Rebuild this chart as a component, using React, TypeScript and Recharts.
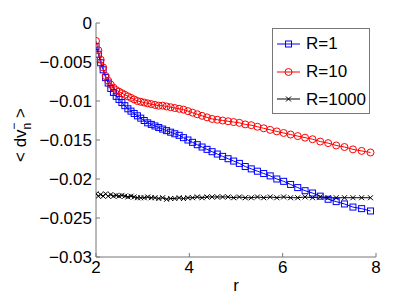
import React from 'react';
import { LineChart, Line, XAxis, YAxis, Legend } from 'recharts';

const rValues = [
  2.000, 2.050, 2.100, 2.153, 2.206, 2.261, 2.317, 2.374, 2.433, 2.493,
  2.555, 2.618, 2.683, 2.750, 2.818, 2.888, 2.959, 3.033, 3.108, 3.185,
  3.264, 3.345, 3.428, 3.513, 3.600, 3.689, 3.781, 3.874, 3.970, 4.069,
  4.170, 4.273, 4.379, 4.488, 4.599, 4.713, 4.830, 4.950, 5.072, 5.198,
  5.327, 5.459, 5.594, 5.733, 5.875, 6.021, 6.170, 6.323, 6.480, 6.640,
  6.805, 6.974, 7.147, 7.324, 7.506, 7.692, 7.882,
];

const r1Values = [
  -0.0030, -0.0040, -0.0051, -0.0060, -0.0070, -0.0077, -0.0084, -0.0089, -0.0094, -0.0098,
  -0.0102, -0.0106, -0.0110, -0.0113, -0.0116, -0.0119, -0.0122, -0.0125, -0.0128, -0.0130,
  -0.0132, -0.0134, -0.0136, -0.0138, -0.0140, -0.0142, -0.0144, -0.0147, -0.0150, -0.0153,
  -0.0156, -0.0159, -0.0162, -0.0165, -0.0168, -0.0171, -0.0174, -0.0177, -0.0180, -0.0184,
  -0.0187, -0.0190, -0.0193, -0.0196, -0.0200, -0.0203, -0.0207, -0.0211, -0.0215, -0.0218,
  -0.0222, -0.0226, -0.0229, -0.0232, -0.0236, -0.0238, -0.0241,
];

const r10Values = [
  -0.0023, -0.0035, -0.0047, -0.0057, -0.0068, -0.0074, -0.0079, -0.0083, -0.0086, -0.0088,
  -0.0090, -0.0092, -0.0094, -0.0096, -0.0098, -0.0100, -0.0101, -0.0102, -0.0103, -0.0104,
  -0.0105, -0.0106, -0.0106, -0.0107, -0.0108, -0.0109, -0.0110, -0.0111, -0.0113, -0.0115,
  -0.0117, -0.0119, -0.0121, -0.0123, -0.0124, -0.0125, -0.0126, -0.0127, -0.0128, -0.0130,
  -0.0131, -0.0133, -0.0135, -0.0137, -0.0139, -0.0141, -0.0143, -0.0145, -0.0147, -0.0149,
  -0.0152, -0.0154, -0.0157, -0.0159, -0.0162, -0.0164, -0.0166,
];

const r1000Values = [
  -0.0219, -0.0222, -0.0220, -0.0222, -0.0219, -0.0222, -0.0220, -0.0222, -0.0221, -0.0222,
  -0.0221, -0.0222, -0.0223, -0.0222, -0.0223, -0.0224, -0.0224, -0.0224, -0.0223, -0.0224,
  -0.0224, -0.0225, -0.0224, -0.0226, -0.0225, -0.0225, -0.0224, -0.0225, -0.0224, -0.0224,
  -0.0223, -0.0224, -0.0223, -0.0223, -0.0223, -0.0223, -0.0223, -0.0224, -0.0223, -0.0224,
  -0.0224, -0.0223, -0.0224, -0.0223, -0.0224, -0.0223, -0.0224, -0.0224, -0.0223, -0.0224,
  -0.0223, -0.0224, -0.0224, -0.0224, -0.0224, -0.0224, -0.0224,
];

const xTicks = [2, 4, 6, 8];
const yTicks = [-0.03, -0.025, -0.02, -0.015, -0.01, -0.005, 0];
const seriesKeys = ['R1', 'R10', 'R1000'];
const seriesNames = ['R=1', 'R=10', 'R=1000'];
const seriesColors = ['#0000ff', '#ff0000', '#000000'];

const data = rValues.map((r, i) => ({
  r,
  R1: r1Values[i],
  R10: r10Values[i],
  R1000: r1000Values[i],
}));

const FONT = '"Liberation Sans", Arial, Helvetica, sans-serif';
const AXIS_COLOR = '#777777';

function Marker({ kind, cx, cy, color }: { kind: string; cx: number; cy: number; color: string }) {
  if (kind === 'R1') {
    return <rect x={cx - 3} y={cy - 3} width={6} height={6} fill="none" stroke={color} strokeWidth={1} />;
  }
  if (kind === 'R10') {
    return <circle cx={cx} cy={cy} r={3.5} fill="none" stroke={color} strokeWidth={1} />;
  }
  return (
    <g stroke={color} strokeWidth={1}>
      <line x1={cx - 2.5} y1={cy - 2.5} x2={cx + 2.5} y2={cy + 2.5} />
      <line x1={cx - 2.5} y1={cy + 2.5} x2={cx + 2.5} y2={cy - 2.5} />
    </g>
  );
}

const makeDot = (kind: string, color: string) => (props: any) => {
  const { cx, cy, index } = props;
  if (cx == null || cy == null) return <g key={`e-${kind}-${index}`} />;
  return (
    <g key={`d-${kind}-${index}`}>
      <Marker kind={kind} cx={cx} cy={cy} color={color} />
    </g>
  );
};

const yTickFormat = (v: number) => (v === 0 ? '0' : '\u2212' + String(Math.abs(v)));

const LegendContent = () => (
  <div
    style={{
      width: 96,
      height: 83,
      border: `1px solid ${AXIS_COLOR}`,
      background: '#fff',
      paddingTop: 1,
      boxSizing: 'content-box',
    }}
  >
    {seriesKeys.map((k, i) => (
      <div
        key={k}
        style={{
          height: 27.7,
          display: 'flex',
          alignItems: 'center',
          fontFamily: FONT,
          fontSize: 17,
          color: '#000',
          lineHeight: '17px',
        }}
      >
        <svg width={28} height={12} style={{ marginLeft: 4, marginRight: 1 }}>
          <line x1={0} y1={6} x2={23} y2={6} stroke={seriesColors[i]} strokeWidth={1} />
          <Marker kind={k} cx={11.5} cy={6} color={seriesColors[i]} />
        </svg>
        <span>{seriesNames[i]}</span>
      </div>
    ))}
  </div>
);

const YLabel = () => (
  <text
    x={26}
    y={135}
    transform="rotate(-90, 26, 135)"
    textAnchor="middle"
    fontFamily={FONT}
    fontSize={17}
    fill="#000"
  >
    <tspan>{'< dv'}</tspan>
    <tspan fontSize={12} dy={5}>n</tspan>
    <tspan fontSize={12} dx={-7} dy={-13}>{'\u2212'}</tspan>
    <tspan dy={8}>{' >'}</tspan>
  </text>
);

export default function App() {
  const tickStyle = { fill: '#000', fontSize: 17, fontFamily: FONT };
  return (
    <div style={{ position: 'absolute', left: 0, top: 0, background: '#fff' }}>
      <LineChart
        width={415}
        height={297}
        data={data}
        margin={{ top: 23, right: 39, bottom: 0, left: 0 }}
      >
        <XAxis
          xAxisId="bottom"
          dataKey="r"
          type="number"
          domain={[2, 8]}
          ticks={xTicks}
          allowDataOverflow
          height={40}
          tickSize={-4}
          tickMargin={8}
          stroke={AXIS_COLOR}
          tick={tickStyle}
          label={{ value: 'r', position: 'insideBottom', offset: 6, fill: '#000', fontSize: 17, fontFamily: FONT }}
        />
        <XAxis
          xAxisId="top"
          orientation="top"
          dataKey="r"
          type="number"
          domain={[2, 8]}
          ticks={xTicks}
          allowDataOverflow
          height={0}
          tickSize={-4}
          tick={false}
          stroke={AXIS_COLOR}
        />
        <YAxis
          yAxisId="left"
          type="number"
          domain={[-0.03, 0]}
          ticks={yTicks}
          allowDataOverflow
          width={96}
          tickSize={-4}
          tickMargin={8}
          stroke={AXIS_COLOR}
          tick={tickStyle}
          tickFormatter={yTickFormat}
          interval={0}
          label={<YLabel />}
        />
        <YAxis
          yAxisId="right"
          orientation="right"
          type="number"
          domain={[-0.03, 0]}
          ticks={yTicks}
          allowDataOverflow
          width={0}
          tickSize={-4}
          tick={false}
          stroke={AXIS_COLOR}
        />
        {seriesKeys.map((k, i) => (
          <Line
            key={k}
            xAxisId="bottom"
            yAxisId="left"
            dataKey={k}
            name={seriesNames[i]}
            stroke={seriesColors[i]}
            strokeWidth={1}
            dot={makeDot(k, seriesColors[i])}
            activeDot={false}
            isAnimationActive={false}
          />
        ))}
        <Legend
          layout="vertical"
          align="center"
          verticalAlign="middle"
          content={<LegendContent />}
          wrapperStyle={{ position: 'absolute', left: 272, top: 28, width: 98, height: 85 }}
        />
      </LineChart>
    </div>
  );
}
